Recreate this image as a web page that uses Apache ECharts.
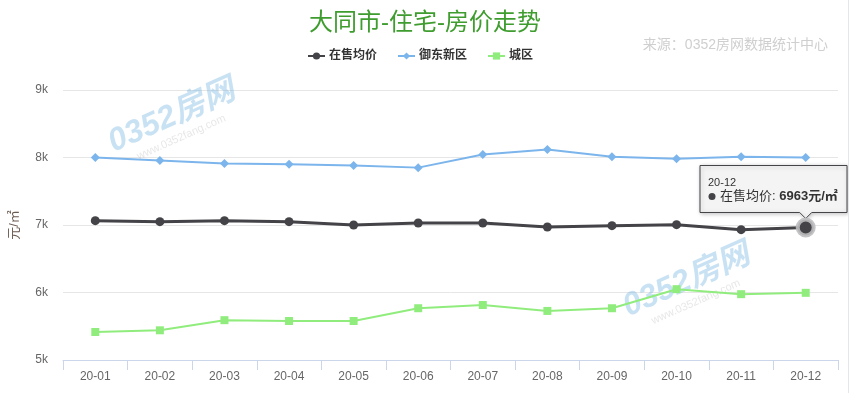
<!DOCTYPE html>
<html>
<head>
<meta charset="utf-8">
<script src="https://cdn.jsdelivr.net/npm/echarts@6/dist/echarts.min.js"></script>
<style>
html,body{margin:0;padding:0;background:#fff;}
#main{width:848px;height:393px;border-right:1px solid #e3e6ea;}
</style>
</head>
<body>
<div id="main"></div>
<script>
const categories = ['20-01','20-02','20-03','20-04','20-05','20-06','20-07','20-08','20-09','20-10','20-11','20-12'];
const avgPrice = [7064, 7049, 7064, 7049, 7000, 7030, 7030, 6970, 6990, 7005, 6931, 6963];
const yudong = [8000, 7955, 7910, 7900, 7880, 7850, 8045, 8120, 8010, 7980, 8010, 8000];
const chengqu = [5415, 5440, 5590, 5578, 5578, 5767, 5815, 5727, 5767, 6049, 5975, 5995];
const seriesNames = ['在售均价', '御东新区', '城区'];
const yTicks = [5000, 6000, 7000, 8000, 9000];
const tipIndex = 11;

const FONT = "'Liberation Sans','Noto Sans CJK SC',sans-serif";
const chart = echarts.init(document.getElementById('main'), null, {renderer: 'canvas'});

const avgData = avgPrice.map((v, i) => i === tipIndex ? {
  value: v, symbolSize: 16,
  itemStyle: {borderColor: 'rgba(190,190,192,0.9)', borderWidth: 4}
} : v);

chart.setOption({
  animation: false,
  textStyle: {fontFamily: FONT},
  title: [{
    text: '大同市-住宅-房价走势',
    left: 420, top: 6, textAlign: 'center',
    textStyle: {color: '#3f9d2f', fontSize: 24, fontWeight: 'normal', fontFamily: FONT}
  }, {
    text: '来源：0352房网数据统计中心',
    right: 15, top: 33,
    textStyle: {color: '#cfcfcf', fontSize: 14, fontWeight: 'normal', fontFamily: FONT}
  }],
  legend: {
    left: 302, top: 45,
    itemWidth: 17, itemHeight: 9, itemGap: 20,
    textStyle: {color: '#333333', fontSize: 12, fontWeight: 'bold', fontFamily: FONT, padding: [0, 0, 0, -1]},
    data: seriesNames
  },
  grid: {left: 61, right: 10, top: 90, bottom: 33, containLabel: false},
  xAxis: {
    type: 'category', data: categories, boundaryGap: true,
    axisLine: {lineStyle: {color: '#ccd6eb'}},
    axisTick: {show: true, length: 10, lineStyle: {color: '#ccd6eb'}},
    axisLabel: {color: '#666666', fontSize: 12, margin: 11, fontFamily: FONT}
  },
  yAxis: {
    type: 'value', min: yTicks[0], max: yTicks[yTicks.length - 1], interval: 1000,
    name: '元/㎡', nameLocation: 'middle', nameRotate: 90, nameGap: 42,
    nameTextStyle: {color: '#6b5a50', fontSize: 13, fontFamily: FONT},
    axisLine: {show: false}, axisTick: {show: false},
    axisLabel: {color: '#666666', fontSize: 12, margin: 15, fontFamily: FONT,
      formatter: v => (v / 1000) + 'k'},
    splitLine: {lineStyle: {color: '#e6e6e6'}}
  },
  series: [{
    name: seriesNames[0], type: 'line', data: avgData,
    symbol: 'circle', symbolSize: 9,
    lineStyle: {color: '#434348', width: 3},
    itemStyle: {color: '#434348'}, z: 4
  }, {
    name: seriesNames[1], type: 'line', data: yudong,
    symbol: 'diamond', symbolSize: 9,
    lineStyle: {color: '#7cb5ec', width: 2},
    itemStyle: {color: '#7cb5ec'}
  }, {
    name: seriesNames[2], type: 'line', data: chengqu,
    symbol: 'rect', symbolSize: 8,
    lineStyle: {color: '#90ed7d', width: 2},
    itemStyle: {color: '#90ed7d'}
  }]
});

// watermark-like decoration and tooltip callout, positioned from the axis scales
function watermark(cx, cy) {
  return {
    type: 'group', x: cx, y: cy, rotation: 0.42, silent: true, z: 0,
    children: [{
      type: 'text', x: 0, y: 0,
      style: {text: '0352房网', fill: 'rgba(110,180,225,0.38)', font: 'italic bold 32px ' + FONT, textAlign: 'center', textVerticalAlign: 'middle'}
    }, {
      type: 'text', x: 0, y: 23,
      style: {text: 'www.0352fang.com', fill: 'rgba(160,160,160,0.25)', font: '11px ' + FONT, textAlign: 'center', textVerticalAlign: 'middle'}
    }]
  };
}
const wm1 = chart.convertToPixel({xAxisIndex: 0, yAxisIndex: 0}, [1, 8550]);
const wm2 = chart.convertToPixel({xAxisIndex: 0, yAxisIndex: 0}, [9, 6200]);

const pt = chart.convertToPixel({seriesIndex: 0}, [tipIndex, avgPrice[tipIndex]]);
const W = 147, H = 47;
const boxLeft = Math.min(pt[0] - W / 2, 847 - W);
const boxTop = pt[1] - 62;
const tx = pt[0] - boxLeft;
chart.setOption({
  graphic: [
    watermark(wm1[0] + 12, wm1[1] - 4),
    watermark(wm2[0] + 10, wm2[1] + 2),
    {
      type: 'group', x: boxLeft, y: boxTop, z: 100,
      children: [{
        type: 'polygon',
        shape: {points: [[0, 0], [W, 0], [W, H], [tx + 6, H], [tx, H + 6], [tx - 6, H], [0, H]]},
        style: {fill: 'rgba(247,247,247,0.92)', stroke: '#434348', lineWidth: 1,
          shadowBlur: 4, shadowColor: 'rgba(0,0,0,0.25)', shadowOffsetX: 1, shadowOffsetY: 1}
      }, {
        type: 'text', x: 8, y: 17,
        style: {text: categories[tipIndex], fill: '#333333', font: '11px ' + FONT, textVerticalAlign: 'middle'}
      }, {
        type: 'circle', shape: {cx: 12, cy: 31, r: 3.5}, style: {fill: '#434348'}
      }, {
        type: 'text', x: 20, y: 31,
        style: {
          text: '{n|' + seriesNames[0] + ': }{v|' + avgPrice[tipIndex] + '元/㎡}',
          textVerticalAlign: 'middle',
          rich: {
            n: {fill: '#333333', fontSize: 13, fontFamily: FONT},
            v: {fill: '#333333', fontSize: 13, fontWeight: 'bold', fontFamily: FONT}
          }
        }
      }]
    }
  ]
});
</script>
</body>
</html>
